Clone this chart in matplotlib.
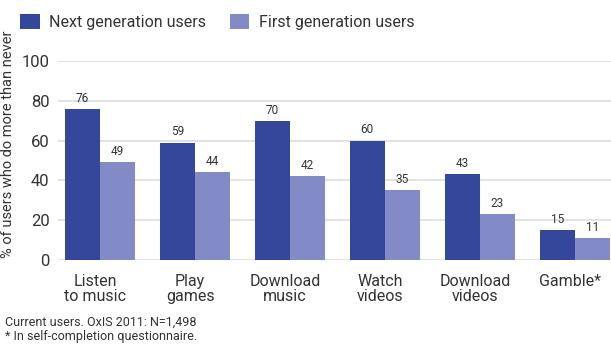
import numpy as np
import matplotlib.pyplot as plt

plt.rcParams['font.family'] = ['Roboto', 'DejaVu Sans']

categories = ["Listen\nto music", "Play\ngames", "Download\nmusic",
              "Watch\nvideos", "Download\nvideos", "Gamble*"]
next_gen = [76, 59, 70, 60, 43, 15]
first_gen = [49, 44, 42, 35, 23, 11]
series_names = ["Next generation users", "First generation users"]
yticks = [0, 20, 40, 60, 80, 100]

dark = "#34479b"
light = "#828bc5"
text_col = "#333333"

fig = plt.figure(figsize=(6.11, 3.49), dpi=100)
W, H = 611, 349
ax = fig.add_axes([58 / W, 1 - 260 / H, (611 - 58) / W, (260 - 61) / H])

x = np.arange(len(categories))
w = 0.37
b1 = ax.bar(x, next_gen, width=-w, align='edge', color=dark, label=series_names[0], zorder=3)
b2 = ax.bar(x, first_gen, width=w, align='edge', color=light, label=series_names[1], zorder=3)
for bars in (b1, b2):
    ax.bar_label(bars, padding=3, fontsize=8.5, color=text_col)

ax.set_xlim(-0.44, 5.38)
ax.set_ylim(0, 100)
ax.set_yticks(yticks)
ax.yaxis.grid(True, color="#dddddd", linewidth=1.2, zorder=0)
ax.set_axisbelow(True)
for s in ax.spines.values():
    s.set_visible(False)
ax.tick_params(axis='y', length=0, labelsize=12, labelcolor=text_col, pad=6)

ax.set_xticks(x - 0.05)
ax.set_xticklabels(categories, fontsize=11.5, color=text_col, linespacing=1.0)
ax.tick_params(axis='x', length=0, pad=10)

ax.set_ylabel("% of users who do more than never", fontsize=10.5, color=text_col)
ax.yaxis.set_label_coords(-0.078, 0.58)

fig.legend(handles=[b1, b2], loc='upper left', bbox_to_anchor=(6 / W, 1 - 0 / H),
           ncol=2, frameon=False, fontsize=11.5, labelcolor=text_col,
           handlelength=1.2, handleheight=1.0, handletextpad=0.6, columnspacing=1.5)

fig.text(5 / W, 1 - 329 / H, "Current users. OxIS 2011: N=1,498", fontsize=9, color=text_col, va='bottom')
fig.text(5 / W, 1 - 343 / H, "* In self-completion questionnaire.", fontsize=9, color=text_col, va='bottom')

fig.savefig("out.png", dpi=100)
